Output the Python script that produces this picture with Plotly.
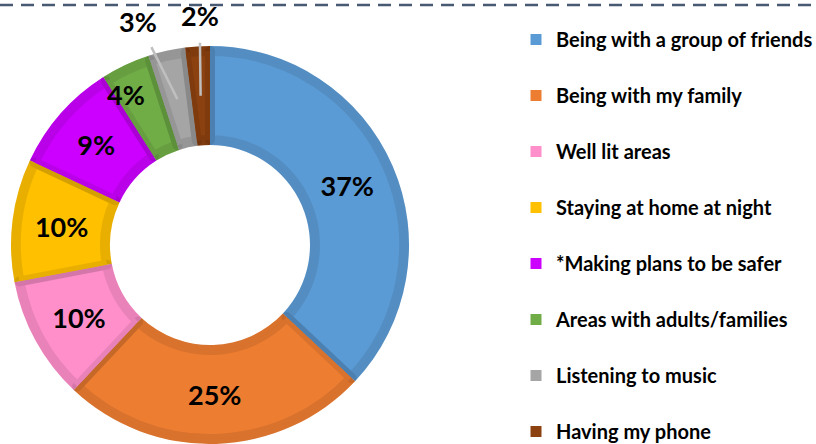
import math
import plotly.graph_objects as go

# Survey answers: what helps people feel safe
categories = [
    "Being with a group of friends",
    "Being with my family",
    "Well lit areas",
    "Staying at home at night",
    "*Making plans to be safer",
    "Areas with adults/families",
    "Listening to music",
    "Having my phone",
]
percentages = [37, 25, 10, 10, 9, 4, 3, 2]
colors = [
    "#5B9BD5", "#ED7D31", "#FF8FCB", "#FFC000",
    "#CC00FF", "#70AD47", "#A5A5A5", "#8C4110",
]

W, H = 816, 444
CX, CY = 210, 245          # ring centre (px)
R_OUT, R_IN = 199, 100     # visible outer / inner radius (px)
EDGE = 10                  # darker rim width (px)
LABEL_FONT = "Lato"
LABEL_SIZE = 27
LEGEND_SIZE = 20
ROW = 56                   # legend row pitch (px)


def px_domain(cx, cy, r):
    return dict(x=[(cx - r) / W, (cx + r) / W],
                y=[1 - (cy + r) / H, 1 - (cy - r) / H])


fig = go.Figure()

# base ring: full-size slices, no outline
fig.add_trace(go.Pie(
    labels=categories, values=percentages, sort=False,
    direction="clockwise", rotation=0,
    hole=R_IN / R_OUT, domain=px_domain(CX, CY, R_OUT),
    marker=dict(colors=colors, line=dict(width=0)),
    textinfo="none", showlegend=False, hoverinfo="skip",
))

# top ring: path inset by half the rim so its translucent outline
# darkens the slice edges while staying inside the ring
r_path = R_OUT - EDGE / 2
label_mode = ["inside"] * 5 + ["none"] * 3
fig.add_trace(go.Pie(
    labels=categories, values=percentages, sort=False,
    direction="clockwise", rotation=0,
    hole=(R_IN + EDGE / 2) / r_path, domain=px_domain(CX, CY, r_path),
    marker=dict(colors=colors,
                line=dict(color="rgba(0,0,0,0.085)", width=EDGE)),
    texttemplate="%{value}%",
    textposition=label_mode,
    insidetextorientation="horizontal",
    textfont=dict(family=LABEL_FONT, size=LABEL_SIZE, color="black",
                  weight="bold"),
    showlegend=False,
    hoverinfo="label+percent",
))

# legend entries as square markers, one group each for even spacing;
# split over two legend boxes so neither needs scrolling
for k, (name, col) in enumerate(zip(categories, colors)):
    fig.add_trace(go.Scatter(
        x=[None], y=[None], mode="markers", name=name, legendgroup=name,
        legend="legend" if k < 4 else "legend2",
        marker=dict(symbol="square", size=11, color=col),
        hoverinfo="skip",
    ))

# labels for the thin slices: 4% sits just off-centre, 3% and 2% sit
# outside the ring with a leader line
label_font = dict(family=LABEL_FONT, size=LABEL_SIZE, color="black",
                  weight="bold")
total = sum(percentages)
start = 0.0
annotations = []
outside_offsets = {6: (-39, -78), 7: (-1, -80)}
for i, v in enumerate(percentages):
    mid = (start + v / 2) / total * 2 * math.pi
    start += v
    rr = (R_OUT + R_IN) / 2
    px = CX + rr * math.sin(mid)
    py = CY - rr * math.cos(mid)
    if i == 5:
        annotations.append(dict(
            x=(px - 20) / W, y=1 - (py - 15) / H,
            xref="paper", yref="paper", xanchor="center", yanchor="middle",
            text=f"{v}%", showarrow=False, font=label_font,
        ))
    elif i in outside_offsets:
        ax, ay = outside_offsets[i]
        annotations.append(dict(
            x=px / W, y=1 - py / H, xref="paper", yref="paper",
            ax=ax, ay=ay, text=f"{v}%",
            showarrow=True, arrowhead=0, arrowwidth=2.5,
            arrowcolor="#BFBFBF", startstandoff=9, standoff=0,
            font=label_font,
        ))

legend_style = dict(
    x=516 / W, xanchor="left", yanchor="top",
    font=dict(family=LABEL_FONT, size=LEGEND_SIZE, color="black",
              weight="bold"),
    tracegroupgap=ROW - 29, itemsizing="trace",
    bgcolor="rgba(0,0,0,0)",
)

fig.update_layout(
    width=W, height=H,
    margin=dict(l=0, r=0, t=0, b=0, autoexpand=False),
    paper_bgcolor="white", plot_bgcolor="white",
    xaxis=dict(visible=False), yaxis=dict(visible=False),
    legend=dict(legend_style, y=1 - 20 / H),
    legend2=dict(legend_style, y=1 - (20 + 4 * ROW) / H),
    annotations=annotations,
    shapes=[dict(
        type="line", xref="paper", yref="paper",
        x0=0, x1=1, y0=1 - 5 / H, y1=1 - 5 / H,
        line=dict(color="#485A72", width=2.5, dash="13px,8px"),
        layer="above",
    )],
)

fig.write_html("out.html")
